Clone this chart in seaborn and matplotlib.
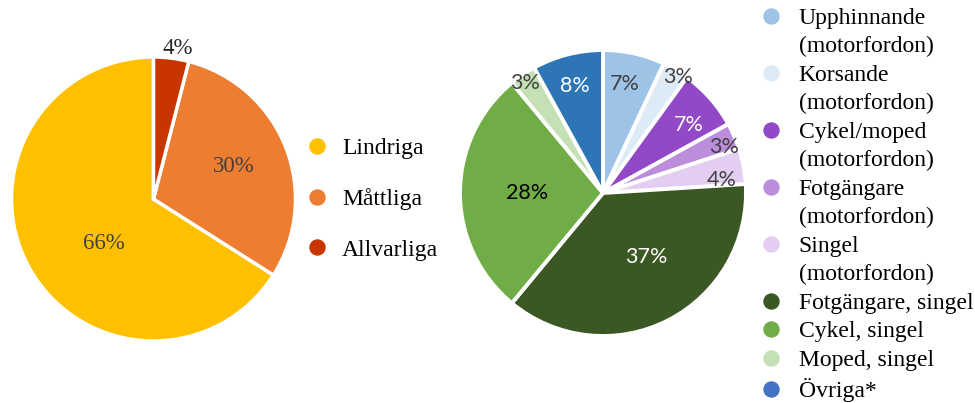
import matplotlib.pyplot as plt
import seaborn as sns
import numpy as np
from matplotlib.lines import Line2D

# left pie: severity
sev_labels = ['Lindriga', 'Måttliga', 'Allvarliga']
sev_values = [66, 30, 4]
sev_colors = ['#FFC000', '#ED7D31', '#C93500']

# right pie: accident type
typ_labels = ['Upphinnande\n(motorfordon)', 'Korsande\n(motorfordon)',
              'Cykel/moped\n(motorfordon)', 'Fotgängare\n(motorfordon)',
              'Singel\n(motorfordon)', 'Fotgängare, singel', 'Cykel, singel',
              'Moped, singel', 'Övriga*']
typ_values = [7, 3, 7, 3, 4, 37, 28, 3, 8]
typ_colors = ['#9DC3E6', '#DDEBF7', '#9249C7', '#BB8DDB', '#E3CDF1',
              '#3A5724', '#70AD47', '#C5E0B4', '#2E75B6']
# legend dot for Övriga is a slightly different blue in the original
typ_legend_colors = typ_colors[:-1] + ['#4472C4']

sns.set_style('white')
W, H = 975, 403
fig = plt.figure(figsize=(W / 100, H / 100), dpi=100)


def pie_axes(cx, cy, r):
    return fig.add_axes([(cx - r) / W, (H - cy - r) / H, 2 * r / W, 2 * r / H])


def place_labels(wedges, autotexts, dists, shifts, colors):
    # dist in radius units, shift in degrees clockwise
    for w, t, d, s, c in zip(wedges, autotexts, dists, shifts, colors):
        ang = np.deg2rad((w.theta1 + w.theta2) / 2 - s)
        t.set_position((d * np.cos(ang), d * np.sin(ang)))
        t.set_color(c)
        t.set_va('center_baseline')


pct = lambda p: f'{p:.0f}%'

ax1 = pie_axes(153.5, 199, 142)
w1, _, at1 = ax1.pie(sev_values, colors=sev_colors, startangle=90, counterclock=True,
                     autopct=pct, wedgeprops=dict(edgecolor='white', linewidth=2.5),
                     textprops=dict(family='Liberation Serif', fontsize=16.5))
place_labels(w1, at1, [0.46, 0.62, 1.09], [-11.5, -1.9, 1.9],
             ['#404040', '#404040', '#262626'])
ax1.set_xlim(-1, 1)
ax1.set_ylim(-1, 1)
ax1.axis('off')

ax2 = pie_axes(603, 193, 143)
w2, _, at2 = ax2.pie(typ_values, colors=typ_colors, startangle=90, counterclock=False,
                     autopct=pct, wedgeprops=dict(edgecolor='white', linewidth=2.8),
                     textprops=dict(family='Lato', fontsize=15.5))
place_labels(w2, at2, [0.79, 0.98, 0.775, 0.91, 0.84, 0.53, 0.53, 0.955, 0.79],
             [-1.4, 1.8, 2.3, 1.8, 3.6, -7.7, 1.5, -0.7, 0],
             ['#404040', '#404040', 'white', '#404040', '#404040', 'white', 'black',
              '#404040', 'white'])
ax2.set_xlim(-1, 1)
ax2.set_ylim(-1, 1)
ax2.axis('off')

leg_font = dict(family='Liberation Serif', size=17)

h1 = [Line2D([], [], ls='', marker='o', ms=10.8, mfc=c, mec=c) for c in sev_colors]
fig.legend(h1, sev_labels, loc='upper left', bbox_to_anchor=(307.5 / W, 1 - 137.5 / H),
           frameon=False, borderpad=0, borderaxespad=0, labelspacing=1.23,
           handlelength=0.8, handletextpad=0.66, prop=leg_font, labelcolor='black')

h2, l2 = [], []
for lab, col in zip(typ_labels, typ_legend_colors):
    for i, line in enumerate(lab.split('\n')):
        if i == 0:
            h2.append(Line2D([], [], ls='', marker='o', ms=10.8, mfc=col, mec=col))
        else:
            h2.append(Line2D([], [], ls='', marker=None))
        l2.append(line)
fig.legend(h2, l2, loc='upper left', bbox_to_anchor=(761.5 / W, 1 - 7.5 / H),
           frameon=False, borderpad=0, borderaxespad=0, labelspacing=0.295,
           handlelength=0.8, handletextpad=0.78, prop=leg_font, labelcolor='black')

fig.savefig('out.png', dpi=100)
